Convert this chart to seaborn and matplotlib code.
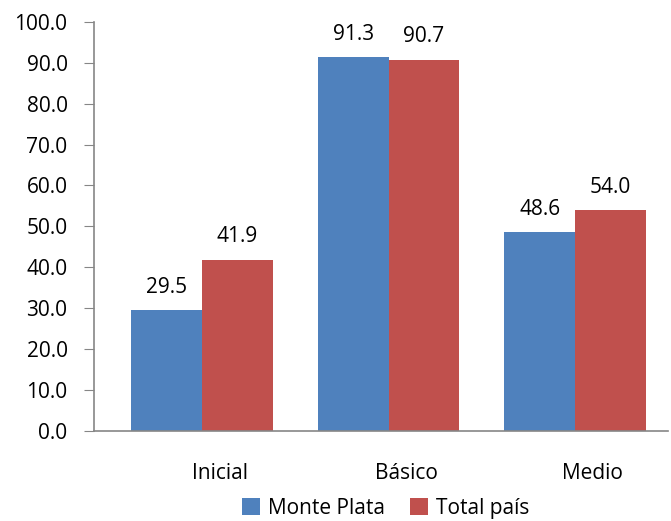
import pandas as pd
import seaborn as sns
import matplotlib.pyplot as plt
from matplotlib.ticker import FixedLocator

categories = ["Inicial", "Básico", "Medio"]
monte_plata = [29.5, 91.3, 48.6]
total_pais = [41.9, 90.7, 54.0]
series = ["Monte Plata", "Total país"]
colors = ["#4F81BD", "#C0504D"]

df = pd.DataFrame({
    "nivel": categories * 2,
    "valor": monte_plata + total_pais,
    "serie": [series[0]] * 3 + [series[1]] * 3,
})

sns.set_style("white")
plt.rcParams['font.family'] = ['Open Sans', 'DejaVu Sans']
plt.rcParams['text.color'] = 'black'
plt.rcParams['xtick.color'] = 'black'
plt.rcParams['ytick.color'] = 'black'

fs = 15

fig = plt.figure(figsize=(6.71, 5.21), dpi=100)
ax = fig.add_axes([0.140, 0.173, 0.856, 0.785])

sns.barplot(data=df, x="nivel", y="valor", hue="serie", order=categories,
            hue_order=series, palette=colors, width=0.76, saturation=1,
            errorbar=None, linewidth=0, ax=ax)

for cont in ax.containers:
    ax.bar_label(cont, fmt="%.1f", padding=9, fontsize=fs, color="black")

ax.set_ylim(0, 100)
ax.set_xlim(-0.58, 2.5)
ax.set_yticks(range(0, 101, 10))
ax.set_yticklabels(["%.1f" % v for v in range(0, 101, 10)], fontsize=fs)
# category labels sit a bit right of the bar pairs, like the original
ax.set_xticks([i + 0.095 for i in range(3)])
ax.set_xticklabels(categories, fontsize=fs)
ax.xaxis.set_minor_locator(FixedLocator([0.5, 1.5]))
ax.tick_params(axis="x", which="major", length=0, pad=23)
ax.tick_params(axis="x", which="minor", length=6, color="#868686", direction="out")
ax.tick_params(axis="y", length=7, color="#868686", direction="out", left=True, pad=12)
ax.set_xlabel("")
ax.set_ylabel("")
for s in ["top", "right"]:
    ax.spines[s].set_visible(False)
for s in ["left", "bottom"]:
    ax.spines[s].set_color("#868686")
    ax.spines[s].set_linewidth(1.2)

handles, labels = ax.get_legend_handles_labels()
ax.get_legend().remove()
fig.legend(handles, labels, loc="center", bbox_to_anchor=(0.575, 0.024), ncol=2,
           frameon=False, fontsize=fs, handlelength=0.85, handleheight=0.85,
           handletextpad=0.4, columnspacing=1.2, borderaxespad=0, borderpad=0)

fig.savefig("out.png", dpi=100)
